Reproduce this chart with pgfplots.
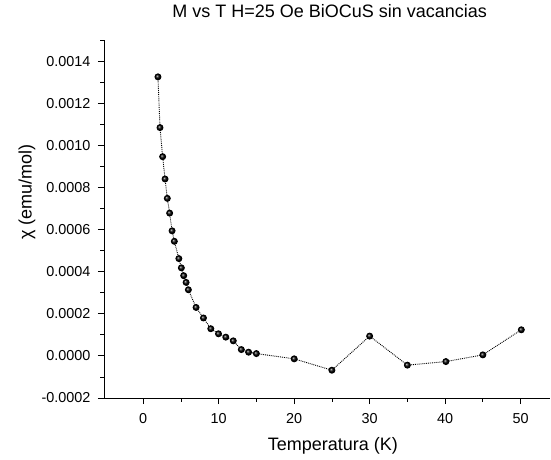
\documentclass[border=0pt]{standalone}
\usepackage{pgfplots}
\pgfplotsset{compat=1.18}
\usepackage{fontspec}
\setmainfont{Liberation Sans}
\begin{document}
\begin{tikzpicture}
\begin{axis}[
  scale only axis,
  width=446pt, height=358pt,
  at={(0,0)}, anchor=south west,
  xmin=-5.2, xmax=53.9,
  ymin=-0.0002, ymax=0.0015,
  axis lines*=left,
  axis line style={line width=0.8pt, -},
  xtick={0,10,20,30,40,50},
  minor xtick={5,15,25,35,45},
  ytick={-0.0002,0,0.0002,0.0004,0.0006,0.0008,0.0010,0.0012,0.0014},
  minor ytick={-0.0001,0.0001,0.0003,0.0005,0.0007,0.0009,0.0011,0.0013,0.0015},
  tick align=outside,
  major tick length=6pt, minor tick length=3.5pt,
  tick style={line width=0.8pt, black},
  scaled y ticks=false,
  /pgf/number format/assume math mode=true,
  yticklabel style={xshift=-4pt, /pgf/number format/.cd, fixed, fixed zerofill, precision=4},
  xticklabel style={yshift=-6pt},
  ticklabel style={font=\fontsize{14.4}{16}\selectfont},
  title={M vs T H=25 Oe BiOCuS sin vacancias},
  title style={at={(axis description cs:0.506,1)}, anchor=center, yshift=23pt, font=\fontsize{18}{20}\selectfont},
  xlabel={Temperatura (K)},
  xlabel style={at={(axis description cs:0.513,0)}, anchor=center, yshift=-48pt, font=\fontsize{18}{20}\selectfont},
  ylabel={χ (emu/mol)},
  ylabel style={at={(axis description cs:-0.1726,0.575)}, anchor=center, font=\fontsize{18}{20}\selectfont},
]
\addplot[black, densely dotted, line width=0.9pt, mark=ball, mark size=3pt, mark options={solid, ball color=black}] coordinates {
(1.95,0.001325)
(2.22,0.001084)
(2.57,0.000946)
(2.89,0.000840)
(3.19,0.000748)
(3.50,0.000678)
(3.82,0.000594)
(4.12,0.000544)
(4.72,0.000462)
(5.05,0.000418)
(5.36,0.000381)
(5.68,0.000349)
(5.98,0.000314)
(7.0,0.000230)
(7.98,0.000180)
(8.95,0.000129)
(9.97,0.000105)
(10.94,0.000089)
(11.93,0.0000714)
(13.0,0.000030)
(13.96,0.0000176)
(14.99,0.000011)
(20,-0.000014)
(25,-0.000068)
(30,0.000094)
(35,-0.000044)
(40.1,-0.000027)
(45,0.0000048)
(50.1,0.000124)
};
\end{axis}
\path[use as bounding box] (-104pt,-61pt) rectangle (447pt,398pt);
\end{tikzpicture}
\end{document}
